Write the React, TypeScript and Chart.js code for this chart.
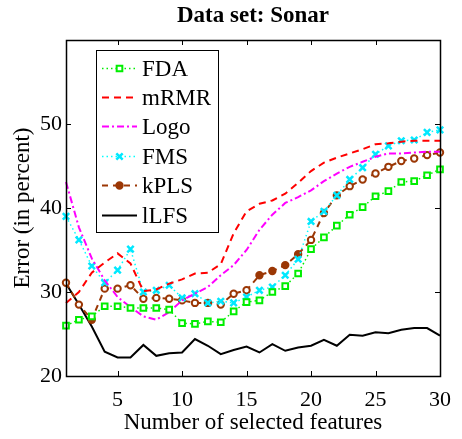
import React, { useEffect, useRef } from "react";
import { Chart, registerables } from "chart.js";

Chart.register(...registerables);

// Number of selected features (x axis)
const featureCounts = [
  1, 2, 3, 4, 5, 6, 7, 8, 9, 10, 11, 12, 13, 14, 15,
  16, 17, 18, 19, 20, 21, 22, 23, 24, 25, 26, 27, 28, 29, 30,
];

// Classification error (in percent) per method
const fdaError = [
  26.0, 26.7, 27.1, 28.3, 28.3, 28.1, 28.1, 28.1, 27.9, 26.3,
  26.2, 26.5, 26.4, 27.7, 28.8, 29.0, 30.0, 30.7, 32.2, 35.1,
  36.5, 37.9, 39.2, 40.1, 41.4, 42.0, 43.1, 43.2, 43.9, 44.6,
];
const mrmrError = [
  28.7, 30.0, 32.3, 33.5, 34.6, 33.4, 30.1, 30.3, 31.0, 31.5,
  32.2, 32.3, 33.3, 37.0, 39.6, 40.5, 40.9, 41.7, 43.0, 44.4,
  45.4, 46.0, 46.5, 47.0, 47.6, 47.7, 47.9, 48.0, 48.0, 48.0,
];
const logoError = [
  43.1, 37.7, 34.0, 31.4, 29.4, 28.2, 27.1, 26.7, 27.6, 29.0,
  29.8, 30.6, 32.0, 33.2, 35.0, 37.4, 39.2, 40.6, 41.3, 42.1,
  43.2, 44.1, 44.9, 45.5, 46.1, 46.5, 46.5, 46.6, 46.7, 46.7,
];
const fmsError = [
  39.0, 36.2, 33.1, 31.1, 32.6, 35.1, 30.0, 30.2, 30.8, 29.3,
  29.8, 28.7, 28.9, 28.7, 29.4, 30.2, 30.6, 32.0, 33.9, 38.4,
  39.6, 41.5, 43.4, 44.8, 46.4, 47.4, 48.0, 48.1, 49.0, 49.3,
];
const kplsError = [
  31.1, 28.5, 26.7, 30.4, 30.4, 30.8, 29.2, 29.3, 29.2, 29.0,
  28.7, 28.7, 28.5, 29.8, 30.2, 32.0, 32.5, 33.2, 34.5, 36.2,
  39.4, 41.5, 42.6, 43.4, 44.1, 44.9, 45.6, 45.9, 46.3, 46.6,
];
const llfsError = [
  31.0, 28.5, 25.9, 22.9, 22.2, 22.2, 23.7, 22.4, 22.7, 22.8,
  24.4, 23.6, 22.6, 23.1, 23.5, 22.8, 23.8, 23.0, 23.4, 23.6,
  24.3, 23.6, 24.9, 24.8, 25.2, 25.1, 25.5, 25.7, 25.7, 24.8,
];

// Tick labels
const xTickValues = [5, 10, 15, 20, 25, 30];
const yTickValues = [20, 30, 40, 50];

const SERIF = "'Liberation Serif', 'Times New Roman', 'DejaVu Serif', serif";
const BROWN = "rgb(155,55,5)";
// kPLS points drawn with a solid face
const kplsSolidAt = [3, 16, 17, 18, 19, 22];

const toPoints = (ys: number[]) => featureCounts.map((x, i) => ({ x, y: ys[i] }));

// Inward tick marks on all four sides plus the box frame
const axesBoxPlugin = {
  id: "axesBox",
  afterDatasetsDraw(chart: any) {
    const { ctx, chartArea, scales } = chart;
    const { left, right, top, bottom } = chartArea;
    const len = 5;
    ctx.save();
    ctx.strokeStyle = "#000";
    ctx.lineWidth = 1;
    ctx.beginPath();
    for (const v of xTickValues) {
      const px = Math.round(scales.x.getPixelForValue(v)) + 0.5;
      ctx.moveTo(px, bottom);
      ctx.lineTo(px, bottom - len);
      ctx.moveTo(px, top);
      ctx.lineTo(px, top + len);
    }
    for (const v of yTickValues) {
      const py = Math.round(scales.y.getPixelForValue(v)) + 0.5;
      ctx.moveTo(left, py);
      ctx.lineTo(left + len, py);
      ctx.moveTo(right, py);
      ctx.lineTo(right - len, py);
    }
    ctx.stroke();
    ctx.lineWidth = 1.5;
    ctx.strokeRect(Math.round(left) + 0.5, Math.round(top) + 0.5, Math.round(right - left), Math.round(bottom - top));
    ctx.restore();
  },
};

function drawMarker(ctx: CanvasRenderingContext2D, style: string, r: number, x: number, y: number) {
  ctx.beginPath();
  if (style === "rect") {
    const s = r * Math.SQRT1_2;
    ctx.rect(x - s, y - s, 2 * s, 2 * s);
    ctx.fill();
    ctx.stroke();
  } else if (style === "circle") {
    ctx.arc(x, y, r, 0, Math.PI * 2);
    ctx.fill();
    ctx.stroke();
  } else if (style === "crossRot") {
    const d = r * Math.SQRT1_2;
    ctx.moveTo(x - d, y - d);
    ctx.lineTo(x + d, y + d);
    ctx.moveTo(x + d, y - d);
    ctx.lineTo(x - d, y + d);
    ctx.stroke();
  }
}

// Boxed legend in the upper-left of the plot, plus the bold chart title
const legendBoxPlugin = {
  id: "legendBox",
  afterDraw(chart: any) {
    const { ctx, chartArea } = chart;
    const boxX = chartArea.left + 30;
    const boxY = chartArea.top + 10;
    const boxW = 122;
    const boxH = 182;
    const rowStart = boxY + 17.5;
    const rowStep = 29.4;
    const lineX0 = boxX + 6;
    const lineX1 = boxX + 41;
    const textX = boxX + 46;

    ctx.save();
    ctx.fillStyle = "#fff";
    ctx.fillRect(boxX, boxY, boxW, boxH);
    ctx.strokeStyle = "#000";
    ctx.lineWidth = 1;
    ctx.strokeRect(boxX + 0.5, boxY + 0.5, boxW, boxH);

    chart.data.datasets.forEach((ds: any, i: number) => {
      const cy = Math.round(rowStart + i * rowStep) + 0.5;
      ctx.save();
      ctx.strokeStyle = ds.borderColor;
      ctx.lineWidth = ds.borderWidth;
      ctx.setLineDash(ds.borderDash || []);
      ctx.beginPath();
      ctx.moveTo(lineX0, cy);
      ctx.lineTo(lineX1, cy);
      ctx.stroke();
      ctx.setLineDash([]);
      if (ds.pointStyle && ds.pointRadius > 0) {
        ctx.fillStyle = ds.legendPointFill || ds.pointBackgroundColor;
        ctx.strokeStyle = ds.pointBorderColor;
        ctx.lineWidth = ds.pointBorderWidth;
        drawMarker(ctx, ds.pointStyle, ds.pointRadius, (lineX0 + lineX1) / 2, cy);
      }
      ctx.restore();
      ctx.fillStyle = "#000";
      ctx.font = `23px ${SERIF}`;
      ctx.textAlign = "left";
      ctx.textBaseline = "middle";
      ctx.fillText(ds.label, textX, cy + 1);
    });

    ctx.fillStyle = "#000";
    ctx.font = `bold 23px ${SERIF}`;
    ctx.textAlign = "center";
    ctx.textBaseline = "middle";
    ctx.fillText("Data set: Sonar", (chartArea.left + chartArea.right) / 2, 16);
    ctx.restore();
  },
};

export default function App() {
  const canvasRef = useRef<HTMLCanvasElement | null>(null);

  useEffect(() => {
    const canvas = canvasRef.current;
    if (!canvas) return;

    const tickFont = { family: SERIF, size: 22 };
    const titleFont = { family: SERIF, size: 23 };

    const chart = new Chart(canvas, {
      type: "line",
      data: {
        datasets: [
          {
            label: "FDA",
            data: toPoints(fdaError),
            borderColor: "#00ee00",
            borderWidth: 1.5,
            borderDash: [1.5, 3],
            pointStyle: "rect",
            pointRadius: 4,
            pointBorderWidth: 2,
            pointBorderColor: "#00ee00",
            pointBackgroundColor: "#ffffff",
            clip: false,
          },
          {
            label: "mRMR",
            data: toPoints(mrmrError),
            borderColor: "#ff0000",
            borderWidth: 2,
            borderDash: [7, 5],
            pointRadius: 0,
            clip: false,
          },
          {
            label: "Logo",
            data: toPoints(logoError),
            borderColor: "#ff00ff",
            borderWidth: 2,
            borderDash: [7, 3, 2, 3],
            pointRadius: 0,
            clip: false,
          },
          {
            label: "FMS",
            data: toPoints(fmsError),
            borderColor: "#00ffff",
            borderWidth: 1.5,
            borderDash: [1.5, 3],
            pointStyle: "crossRot",
            pointRadius: 4.5,
            pointBorderWidth: 2.5,
            pointBorderColor: "#00e8ff",
            pointBackgroundColor: "#00e8ff",
            clip: false,
          },
          {
            label: "kPLS",
            data: toPoints(kplsError),
            borderColor: BROWN,
            borderWidth: 2,
            borderDash: [6, 5],
            pointStyle: "circle",
            pointRadius: 3.2,
            pointBorderWidth: 2,
            pointBorderColor: BROWN,
            pointBackgroundColor: featureCounts.map((n) => (kplsSolidAt.includes(n) ? BROWN : "#ffffff")),
            legendPointFill: BROWN,
            clip: false,
          } as any,
          {
            label: "lLFS",
            data: toPoints(llfsError),
            borderColor: "#000000",
            borderWidth: 2,
            pointRadius: 0,
            clip: false,
          },
        ],
      },
      options: {
        animation: false,
        responsive: false,
        maintainAspectRatio: false,
        events: [],
        layout: { padding: { top: 40, right: 11, left: 0, bottom: 0 } },
        elements: { line: { tension: 0 } },
        plugins: {
          legend: { display: false },
          title: { display: false },
          tooltip: { enabled: false },
        },
        scales: {
          x: {
            type: "linear",
            min: 1,
            max: 30,
            afterBuildTicks: (scale: any) => {
              scale.ticks = xTickValues.map((value) => ({ value }));
            },
            afterFit: (scale: any) => {
              scale.height = 63;
            },
            grid: { display: false, drawTicks: false },
            border: { display: false },
            ticks: {
              font: tickFont,
              color: "#000",
              padding: 11,
              maxRotation: 0,
              autoSkip: false,
            },
            title: {
              display: true,
              text: "Number of selected features",
              font: titleFont,
              color: "#000",
              padding: { top: 0, bottom: 2 },
            },
          },
          y: {
            type: "linear",
            min: 20,
            max: 60,
            afterBuildTicks: (scale: any) => {
              scale.ticks = yTickValues.map((value) => ({ value }));
            },
            afterFit: (scale: any) => {
              scale.width = 66;
            },
            grid: { display: false, drawTicks: false },
            border: { display: false },
            ticks: {
              font: tickFont,
              color: "#000",
              padding: 4,
              autoSkip: false,
            },
            title: {
              display: true,
              text: "Error (in percent)",
              font: titleFont,
              color: "#000",
              padding: { top: 9, bottom: 0 },
            },
          },
        },
      },
      plugins: [axesBoxPlugin, legendBoxPlugin],
    } as any);

    return () => chart.destroy();
  }, []);

  return (
    <div style={{ position: "absolute", left: 0, top: 0, width: 462, height: 439, background: "#fff" }}>
      <canvas ref={canvasRef} width={462} height={439} style={{ display: "block", width: 462, height: 439 }} />
    </div>
  );
}
